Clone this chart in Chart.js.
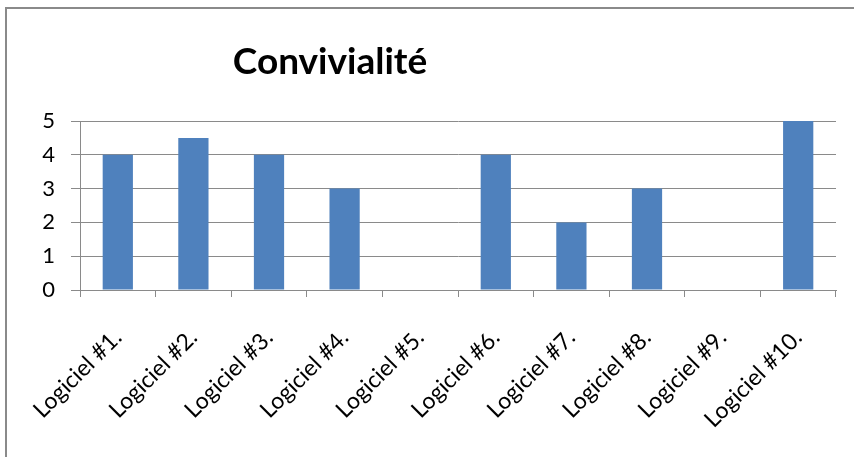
<!DOCTYPE html>
<html>
<head>
<meta charset="utf-8">
<script src="https://cdn.jsdelivr.net/npm/chart.js@4/dist/chart.umd.min.js"></script>
<style>
  html, body { margin: 0; padding: 0; background: #fff; overflow: hidden; }
  #cadre { position: absolute; left: 5px; top: 7px; width: 900px; height: 500px; border: 2px solid #8a8a8a; }
  #zone { position: absolute; left: 0; top: 0; width: 854px; height: 457px; }
</style>
</head>
<body>
<div id="cadre"></div>
<div id="zone"><canvas id="graphique"></canvas></div>
<script>
// Données du graphique
const titre = 'Convivialité';
const logiciels = ['Logiciel #1.', 'Logiciel #2.', 'Logiciel #3.', 'Logiciel #4.', 'Logiciel #5.',
                   'Logiciel #6.', 'Logiciel #7.', 'Logiciel #8.', 'Logiciel #9.', 'Logiciel #10.'];
const notes = [4, 4.5, 4, 3, 0, 4, 2, 3, 0, 5];
const graduations = [0, 1, 2, 3, 4, 5];

const police = 'Lato, "Open Sans", sans-serif';

// Titre dessiné à la main, décalé vers la gauche comme dans Excel
const pluginTitre = {
    id: 'titre',
    afterDraw(chart) {
        const ctx = chart.ctx;
        ctx.save();
        ctx.font = 'bold 37px ' + police;
        ctx.fillStyle = '#000';
        ctx.textAlign = 'center';
        ctx.textBaseline = 'middle';
        ctx.fillText(titre, 330, 62);
        ctx.restore();
    }
};

new Chart(document.getElementById('graphique'), {
    type: 'bar',
    data: {
        labels: logiciels,
        datasets: [{
            data: notes,
            backgroundColor: '#4F81BD',
            barPercentage: 0.4,
            categoryPercentage: 1
        }]
    },
    options: {
        responsive: true,
        maintainAspectRatio: false,
        animation: false,
        layout: { padding: { top: 121, right: 18, left: 0, bottom: 0 } },
        plugins: { legend: { display: false }, tooltip: { enabled: false } },
        scales: {
            x: {
                afterFit(axe) { axe.height = 167; },
                grid: { drawOnChartArea: false, color: '#8a8a8a', tickLength: 7 },
                border: { color: '#8a8a8a' },
                ticks: {
                    color: '#000',
                    font: { family: police, size: 23 },
                    minRotation: 45,
                    maxRotation: 45,
                    autoSkip: false,
                    padding: 27
                }
            },
            y: {
                min: 0,
                max: 5,
                afterFit(axe) { axe.width = 80; },
                afterBuildTicks(axe) { axe.ticks = graduations.map(v => ({ value: v })); },
                grid: { color: '#8a8a8a', tickLength: 9 },
                border: { color: '#8a8a8a' },
                ticks: {
                    color: '#000',
                    font: { family: police, size: 22 },
                    padding: 16
                }
            }
        }
    },
    plugins: [pluginTitre]
});
</script>
</body>
</html>
